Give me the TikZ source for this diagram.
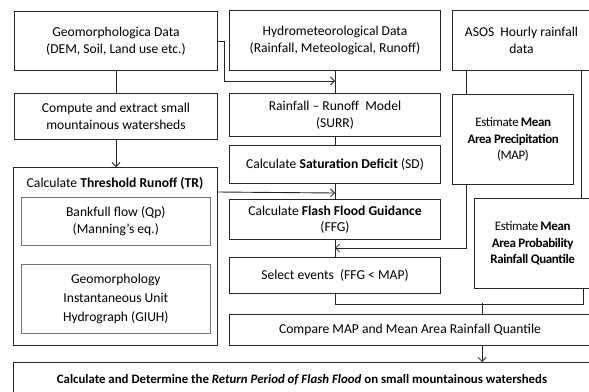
\documentclass[tikz,border=0pt]{standalone}
\usepackage{fontspec}
\setmainfont{Carlito}
\usetikzlibrary{arrows.meta,calc}
\begin{document}
\begin{tikzpicture}[x=1pt,y=-1pt,
  font=\fontsize{13.6}{16.5}\selectfont,
  box/.style={draw=black!85, line width=1pt, inner sep=0pt, align=center, anchor=north west},
  inbox/.style={draw=black!55, line width=0.7pt, inner sep=0pt, align=center, anchor=north west},
  conn/.style={draw=black!85, line width=0.9pt},
  arr/.style={conn, -{Straight Barb[length=4pt,width=8pt,line width=0.8pt]}},
  tight/.style={font=\fontsize{13}{16.5}\selectfont\addfontfeature{LetterSpace=-3}}
]
\useasboundingbox (0,0) rectangle (589,391);
\clip (0,0) rectangle (589,391);
\fill[white] (0,0) rectangle (589,391);

% left column
\node[box, minimum width=203, minimum height=59] (geo) at (14,11) {Geomorphologica Data\\(DEM, Soil, Land use etc.)};
\node[box, minimum width=203, minimum height=46] (comp) at (14,93) {Compute and extract small\\mountainous watersheds};
\node[box, minimum width=204, minimum height=178] (tr) at (13,167) {};
\node[anchor=center, inner sep=0pt] (trt) at (115,183) {Calculate \textbf{Threshold Runoff (TR)}};
\node[inbox, minimum width=189, minimum height=48] (bank) at (21,197) {Bankfull flow (Qp)\\(Manning’s eq.)};
\node[inbox, minimum width=189, minimum height=69, font=\fontsize{13.6}{19}\selectfont] (giuh) at (21,264) {Geomorphology\\Instantaneous Unit\\Hydrograph (GIUH)};

% middle column
\node[box, minimum width=211, minimum height=60] (hyd) at (229,10) {Hydrometeorological Data\\(Rainfall, Meteological, Runoff)};
\node[box, minimum width=211, minimum height=43] (rain) at (229,93) {Rainfall – Runoff~ Model\\(SURR)};
\node[box, minimum width=211, minimum height=38] (sd) at (229,145) {Calculate \textbf{Saturation Deficit} (SD)};
\node[box, minimum width=211, minimum height=40] (ffg) at (229,199) {Calculate \textbf{Flash Flood Guidance}\\(FFG)};
\node[box, minimum width=211, minimum height=36] (sel) at (229,257) {Select events~ (FFG < MAP)};
\node[box, minimum width=361, minimum height=31] (cmp) at (229,314) {Compare MAP and Mean Area Rainfall Quantile};
\node[box, minimum width=577, minimum height=34, font=\fontsize{12.85}{16}\selectfont] (bot) at (13,362) {\textbf{Calculate and Determine the \textit{Return Period of Flash Flood} on small mountainous watersheds}};

% right column
\node[box, minimum width=138, minimum height=60] (asos) at (452,10) {ASOS~ Hourly rainfall\\data};
\node[box, minimum width=121, minimum height=90, tight] (map) at (452,94) {Estimate \textbf{Mean}\\\textbf{Area Precipitation}\\(MAP)};
\node[box, minimum width=116, minimum height=90, tight] (quant) at (474,198) {Estimate \textbf{Mean}\\\textbf{Area Probability}\\\textbf{Rainfall Quantile}};

% junction coordinates
\coordinate (j1) at ($(hyd.south)+(0,10)$);
\coordinate (j3) at ($(ffg.south)+(0,8)$);
\coordinate (j4) at ($(sel.south)+(0,10)$);
\coordinate (j5) at (482,303);

% connectors
\draw[conn] (geo.south) -- (comp.north);
\draw[arr] (comp.south) -- (comp.south |- tr.north);
\draw[arr] (geo.east) -- ++(6,0) |- (j1);
\draw[conn] (hyd.south) -- (rain.north);
\draw[conn] (rain.south) -- (sd.north);
\draw[conn] (sd.south) -- (ffg.north);
\draw[arr] ($(tr.north east)+(0,25)$) -- ($(sd.south)+(0,9)$);
\draw[conn] (ffg.south) -- (sel.north);
\draw[conn] ($(asos.south west)+(14,0)$) -- ($(map.north west)+(14,0)$);
\draw[arr] ($(map.south west)+(14,0)$) |- (j3);
\draw[conn] ($(asos.south west)+(129,0)$) -- ($(quant.north west)+(107,0)$);
\draw[conn] (sel.south) -- (j4) -| ($(quant.south west)+(109,0)$);
\draw[conn] (j5) -- (j5 |- cmp.north);
\draw[arr] (j5 |- cmp.south) -- (j5 |- bot.north);
\end{tikzpicture}
\end{document}
